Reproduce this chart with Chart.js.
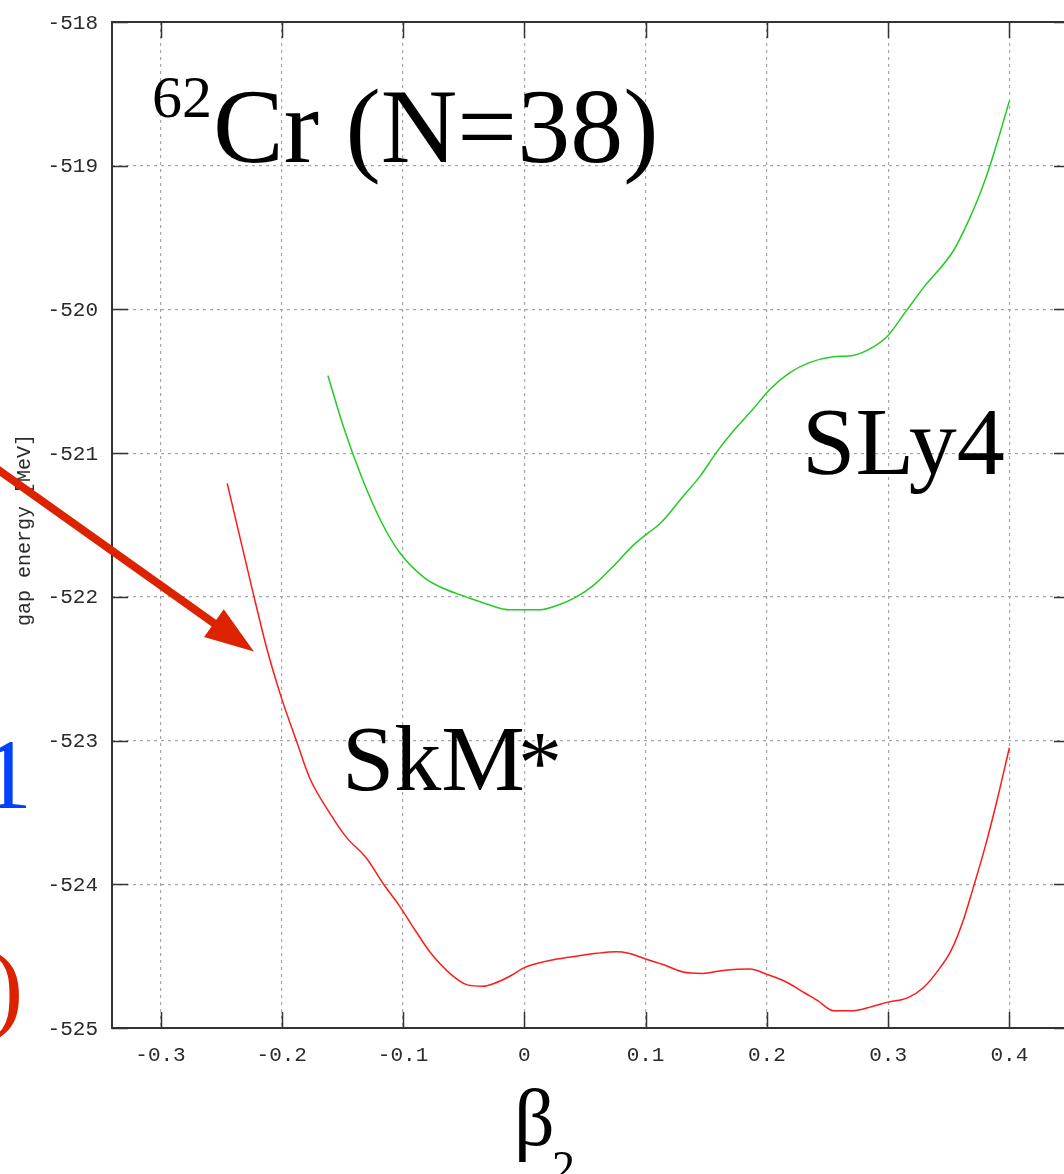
<!DOCTYPE html>
<html>
<head>
<meta charset="utf-8">
<title>62Cr gap energy</title>
<script src="https://cdn.jsdelivr.net/npm/chart.js@4.4.1/dist/chart.umd.min.js"></script>
<style>
  html, body { margin: 0; padding: 0; background: #fff; overflow: hidden; }
  #wrap { position: relative; width: 1100px; height: 1174px; }
</style>
</head>
<body>
<div id="wrap"><canvas id="grafico" width="1100" height="1174"></canvas></div>
<script>
// curva SLy4 (verde)
const sly4Beta = [-0.162, -0.149, -0.134, -0.119, -0.103, -0.082, -0.067, -0.048, -0.031, -0.012,
  0.013, 0.027, 0.043, 0.057, 0.073, 0.090, 0.103, 0.112, 0.131, 0.145, 0.158, 0.172, 0.189, 0.202, 0.219,
  0.235, 0.255, 0.271, 0.288, 0.299, 0.315, 0.329, 0.354, 0.367, 0.376, 0.384, 0.392, 0.400];
const sly4Energia = [-520.46, -520.82, -521.17, -521.46, -521.69, -521.87, -521.94, -522.00, -522.05, -522.09,
  -522.09, -522.06, -522.00, -521.92, -521.79, -521.64, -521.55, -521.49, -521.30, -521.16, -521.00, -520.85, -520.69, -520.56, -520.44,
  -520.37, -520.33, -520.32, -520.26, -520.19, -520.01, -519.85, -519.59, -519.37, -519.19, -519.00, -518.78, -518.55];

// curva SkM* (vermelha)
const skmBeta = [-0.245, -0.224, -0.212, -0.200, -0.188, -0.177, -0.160, -0.147, -0.130, -0.116, -0.103, -0.090,
  -0.077, -0.060, -0.047, -0.034, -0.025, -0.012, 0.000, 0.011, 0.027, 0.043, 0.060, 0.076, 0.086, 0.100,
  0.115, 0.131, 0.147, 0.164, 0.186, 0.201, 0.216, 0.232, 0.242, 0.255, 0.271, 0.287, 0.300, 0.316, 0.329,
  0.342, 0.352, 0.362, 0.370, 0.380, 0.390, 0.400];
const skmEnergia = [-521.21, -521.96, -522.37, -522.71, -523.00, -523.26, -523.51, -523.67, -523.82, -524.00, -524.15, -524.32,
  -524.48, -524.63, -524.70, -524.71, -524.69, -524.64, -524.58, -524.55, -524.52, -524.50, -524.48, -524.47, -524.48, -524.52,
  -524.56, -524.61, -524.62, -524.60, -524.59, -524.63, -524.68, -524.76, -524.81, -524.88, -524.88, -524.85, -524.82, -524.79, -524.72,
  -524.59, -524.46, -524.25, -524.03, -523.74, -523.41, -523.05];

const xTicks = [-0.3, -0.2, -0.1, 0, 0.1, 0.2, 0.3, 0.4];
const yTicks = [-525, -524, -523, -522, -521, -520, -519, -518];

const fonteEixo = '21px "Liberation Mono", "DejaVu Sans Mono", monospace';
const serifa = '"Liberation Serif", "Times New Roman", serif';

function pontos(xs, ys) {
  return xs.map((v, i) => ({ x: v, y: ys[i] }));
}

function desenharTexto(ctx, texto, x, y, tam, cor) {
  ctx.font = tam + 'px ' + serifa;
  ctx.fillStyle = cor;
  ctx.textAlign = 'left';
  ctx.textBaseline = 'alphabetic';
  ctx.fillText(texto, x, y);
}

// moldura no estilo gnuplot: borda, marcas para dentro, rotulos e anotacoes
const molduraGnuplot = {
  id: 'molduraGnuplot',
  afterDraw(chart) {
    const { ctx, chartArea: a, scales: { x, y } } = chart;
    ctx.save();

    ctx.strokeStyle = '#333';
    ctx.lineWidth = 2;
    ctx.strokeRect(a.left, a.top, a.right - a.left, a.bottom - a.top);

    ctx.lineWidth = 1.5;
    ctx.beginPath();
    xTicks.forEach(v => {
      const px = Math.round(x.getPixelForValue(v)) + 0.5;
      ctx.moveTo(px, a.bottom); ctx.lineTo(px, a.bottom - 16);
      ctx.moveTo(px, a.top); ctx.lineTo(px, a.top + 16);
    });
    yTicks.forEach(v => {
      const py = Math.round(y.getPixelForValue(v)) + 0.5;
      ctx.moveTo(a.left, py); ctx.lineTo(a.left + 16, py);
      ctx.moveTo(a.right, py); ctx.lineTo(a.right - 16, py);
    });
    ctx.stroke();

    ctx.fillStyle = '#2a2a2a';
    ctx.font = fonteEixo;
    ctx.textAlign = 'center';
    ctx.textBaseline = 'middle';
    xTicks.forEach(v => ctx.fillText(String(v), x.getPixelForValue(v), a.bottom + 27));
    ctx.textAlign = 'right';
    yTicks.forEach(v => ctx.fillText(String(v), a.left - 14, y.getPixelForValue(v) + 1));

    ctx.save();
    ctx.translate(25, (a.top + a.bottom) / 2 + 5);
    ctx.rotate(-Math.PI / 2);
    ctx.textAlign = 'center';
    ctx.font = '20px "Liberation Mono", "DejaVu Sans Mono", monospace';
    ctx.fillText('gap energy [MeV]', 0, 0);
    ctx.restore();

    // seta apontando para a curva SkM*
    const ponta = { x: x.getPixelForValue(-0.223), y: y.getPixelForValue(-522.38) };
    const inicio = { x: x.getPixelForValue(-0.450), y: y.getPixelForValue(-521.02) };
    const dx = ponta.x - inicio.x, dy = ponta.y - inicio.y;
    const len = Math.hypot(dx, dy);
    const ux = dx / len, uy = dy / len;
    const base = { x: ponta.x - ux * 49, y: ponta.y - uy * 49 };
    ctx.strokeStyle = '#dd2200';
    ctx.fillStyle = '#dd2200';
    ctx.lineWidth = 8;
    ctx.beginPath();
    ctx.moveTo(inicio.x, inicio.y);
    ctx.lineTo(base.x + ux * 4, base.y + uy * 4);
    ctx.stroke();
    ctx.beginPath();
    ctx.moveTo(ponta.x, ponta.y);
    ctx.lineTo(base.x - uy * 17, base.y + ux * 17);
    ctx.lineTo(base.x + uy * 17, base.y - ux * 17);
    ctx.closePath();
    ctx.fill();

    desenharTexto(ctx, '62', 152, 117, 60, '#000');
    desenharTexto(ctx, 'Cr (N=38)', 213, 162, 106, '#000');
    desenharTexto(ctx, 'SLy4', 802, 474, 96, '#000');
    desenharTexto(ctx, 'SkM', 342, 790, 94, '#000');
    desenharTexto(ctx, '*', 518, 792, 88, '#000');
    desenharTexto(ctx, 'β', 514, 1145, 80, '#000');
    desenharTexto(ctx, '2', 552, 1183, 46, '#000');
    desenharTexto(ctx, '1', -18, 808, 100, '#0040ff');
    desenharTexto(ctx, ')', -10, 1020, 100, '#dd2200');

    ctx.restore();
  }
};

const ctx = document.getElementById('grafico').getContext('2d');
new Chart(ctx, {
  type: 'line',
  data: {
    datasets: [{
      label: 'SLy4',
      data: pontos(sly4Beta, sly4Energia),
      borderColor: '#22cc22',
      borderWidth: 1.5,
      pointRadius: 0,
      cubicInterpolationMode: 'monotone',
      fill: false
    }, {
      label: 'SkM*',
      data: pontos(skmBeta, skmEnergia),
      borderColor: '#ff1a1a',
      borderWidth: 1.5,
      pointRadius: 0,
      cubicInterpolationMode: 'monotone',
      fill: false
    }]
  },
  options: {
    responsive: false,
    animation: false,
    layout: { padding: { left: 112, top: 22, right: 30, bottom: 146 } },
    plugins: { legend: { display: false }, tooltip: { enabled: false } },
    scales: {
      x: {
        type: 'linear',
        min: -0.34,
        max: 0.45,
        afterBuildTicks: s => { s.ticks = xTicks.map(v => ({ value: v })); },
        ticks: { display: false },
        grid: { color: '#a6a6a6', lineWidth: 1.2, drawTicks: false },
        border: { display: false, dash: [3, 4] }
      },
      y: {
        type: 'linear',
        min: -525,
        max: -518,
        afterBuildTicks: s => { s.ticks = yTicks.map(v => ({ value: v })); },
        ticks: { display: false },
        grid: { color: '#a6a6a6', lineWidth: 1.2, drawTicks: false },
        border: { display: false, dash: [3, 4] }
      }
    }
  },
  plugins: [molduraGnuplot]
});
</script>
</body>
</html>
